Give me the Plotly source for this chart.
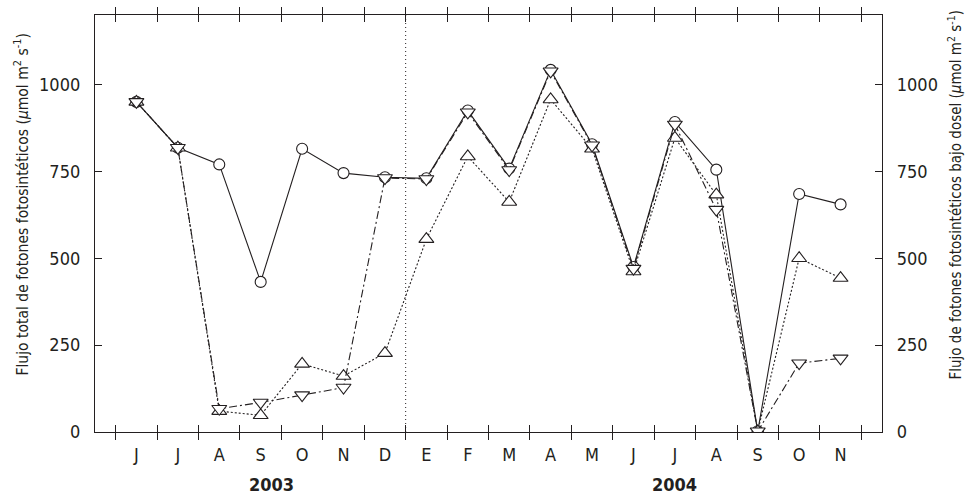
import plotly.graph_objects as go

months = ["J", "J", "A", "S", "O", "N", "D", "E", "F", "M", "A", "M", "J", "J", "A", "S", "O", "N"]
years = ["2003", "2004"]
year_pos = [3.25, 13.0]
y_ticks = [0, 250, 500, 750, 1000]

total = [950, 818, 770, 432, 815, 745, 733, 730, 925, 758, 1042, 828, 475, 892, 755, 2, 685, 655]
under_a = [950, 818, 60, 48, 196, 161, 227, 555, 793, 662, 957, 815, 462, 846, 683, 2, 500, 443]
under_b = [950, 818, 67, 85, 106, 128, 731, 728, 920, 754, 1038, 825, 470, 885, 640, 2, 198, 212]

x = list(range(len(months)))
ink = "#231f20"
font_fam = "DejaVu Sans Condensed, Liberation Sans Narrow, Liberation Sans, sans-serif"

fig = go.Figure()
fig.add_trace(go.Scatter(x=x, y=total, mode="lines+markers",
    line=dict(color=ink, width=1.1),
    marker=dict(symbol="circle", size=11, color="white", line=dict(color=ink, width=1.1))))
fig.add_trace(go.Scatter(x=x, y=under_a, mode="lines+markers",
    line=dict(color=ink, width=1.1, dash="2px,2px"),
    marker=dict(symbol="triangle-up", size=13, color="white", line=dict(color=ink, width=1.1))))
fig.add_trace(go.Scatter(x=x, y=under_b, mode="lines+markers",
    line=dict(color=ink, width=1.1, dash="8px,3px,2px,3px"),
    marker=dict(symbol="triangle-down", size=13, color="white", line=dict(color=ink, width=1.1))))
fig.add_trace(go.Scatter(x=x, y=total, xaxis="x2", mode="markers", marker=dict(opacity=0), hoverinfo="skip"))
fig.add_trace(go.Scatter(x=x, y=total, yaxis="y2", mode="markers", marker=dict(opacity=0), hoverinfo="skip"))

fig.add_shape(type="line", x0=6.5, x1=6.5, y0=0, y1=1200, xref="x", yref="y",
              line=dict(color=ink, width=1, dash="1px,3px"))

for yr, p in zip(years, year_pos):
    fig.add_annotation(text="<b>%s</b>" % yr, x=p, xref="x", y=-0.127, yref="paper",
                       showarrow=False, font=dict(size=18, color=ink, family=font_fam),
                       xanchor="center", yanchor="middle")

fig.add_annotation(text="Flujo total de fotones fotosintéticos (<i>μ</i>mol m<sup>2</sup> s<sup>-1</sup>)",
                   textangle=-90, x=-0.093, xref="paper", y=0.545, yref="paper", showarrow=False,
                   xanchor="center", yanchor="middle",
                   font=dict(size=15.5, color=ink, family=font_fam))
fig.add_annotation(text="Flujo de fotones fotosintéticos bajo dosel (<i>μ</i>mol m<sup>2</sup> s<sup>-1</sup>)",
                   textangle=-90, x=1.093, xref="paper", y=0.57, yref="paper", showarrow=False,
                   xanchor="center", yanchor="middle",
                   font=dict(size=15, color=ink, family=font_fam))

fig.update_layout(
    width=966, height=495,
    margin=dict(l=95, r=84, t=15, b=63),
    paper_bgcolor="white", plot_bgcolor="white",
    showlegend=False,
    font=dict(family=font_fam, color=ink, size=18),
    xaxis=dict(range=[-1, 18], tickmode="array", tickvals=[i - 0.5 for i in range(len(months) + 1)],
               ticktext=["" for _ in range(len(months) + 1)], ticks="inside", ticklen=7, tickwidth=1.2,
               tickcolor=ink, showline=True, linecolor=ink, linewidth=1.3, mirror="allticks",
               showgrid=False, zeroline=False),
    xaxis2=dict(range=[-1, 18], overlaying="x", side="bottom", tickmode="array", tickvals=x,
                ticktext=months, ticks="", showline=False, showgrid=False, zeroline=False,
                ticklabelstandoff=10, tickfont=dict(size=18, color=ink, family=font_fam)),
    yaxis=dict(range=[0, 1200], tickmode="array", tickvals=y_ticks, ticks="inside", ticklen=7,
               tickwidth=1.2, tickcolor=ink, showline=True, linecolor=ink, linewidth=1.3,
               mirror=True, showgrid=False, zeroline=False, ticklabelstandoff=10,
               tickfont=dict(size=18, color=ink, family=font_fam)),
    yaxis2=dict(range=[0, 1200], overlaying="y", side="right", tickmode="array", tickvals=y_ticks,
                ticks="inside", ticklen=7, tickwidth=1.2, tickcolor=ink, showline=True, linecolor=ink,
                linewidth=1.3, showgrid=False, zeroline=False, ticklabelstandoff=10,
                tickfont=dict(size=18, color=ink, family=font_fam)),
)
fig.write_html("out.html")
